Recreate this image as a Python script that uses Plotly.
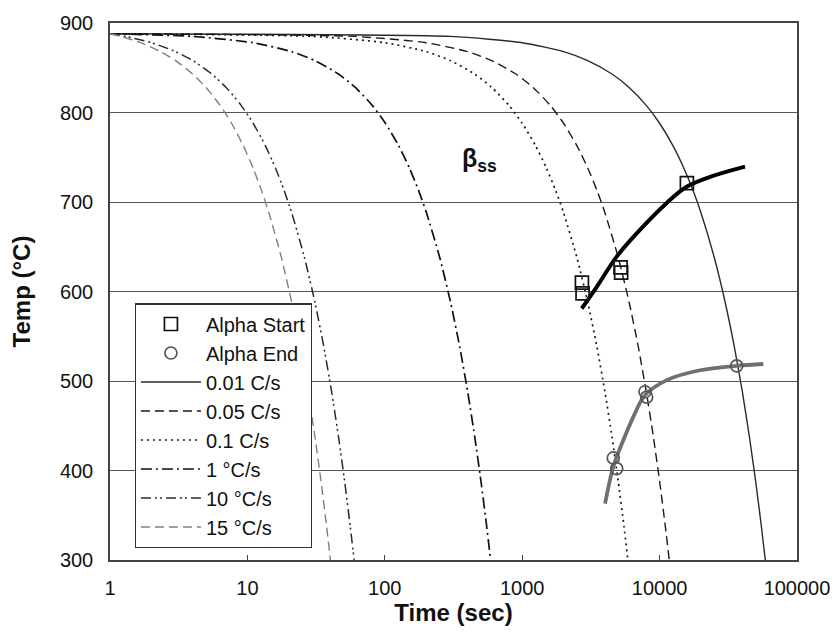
import plotly.graph_objects as go

# ---- data ----
# cooling curves (time in s, temperature in °C)
t_001 = [1, 300, 1000, 2000, 3000, 4500, 6000, 8000, 10000, 12500, 15000, 17500, 20000, 25000, 30000, 35000, 40000, 45000, 50000, 55000, 58800]
T_001 = [888, 885, 878, 868, 858, 843, 828, 808, 788, 763, 738, 713, 688, 638, 588, 538, 488, 438, 388, 338, 300]

t_005 = [1, 60, 200, 400, 600, 900, 1200, 1600, 2000, 2500, 3000, 3500, 4000, 5000, 6000, 7000, 8000, 9000, 10000, 11000, 11760]
T_005 = [888, 885, 878, 868, 858, 843, 828, 808, 788, 763, 738, 713, 688, 638, 588, 538, 488, 438, 388, 338, 300]

t_01 = [1, 30, 100, 200, 300, 450, 600, 800, 1000, 1250, 1500, 1750, 2000, 2500, 3000, 3500, 4000, 4500, 5000, 5500, 5880]
T_01 = [888, 885, 878, 868, 858, 843, 828, 808, 788, 763, 738, 713, 688, 638, 588, 538, 488, 438, 388, 338, 300]

t_1 = [1, 4, 11, 21, 31, 46, 61, 81, 101, 126, 151, 176, 201, 251, 301, 351, 401, 451, 501, 551, 589]
T_1 = [888, 885, 878, 868, 858, 843, 828, 808, 788, 763, 738, 713, 688, 638, 588, 538, 488, 438, 388, 338, 300]

t_10 = [1, 1.3, 2, 3, 4, 5.5, 7, 9, 11, 13.5, 16, 18.5, 21, 26, 31, 36, 41, 46, 51, 56, 59.8]
T_10 = [888, 885, 878, 868, 858, 843, 828, 808, 788, 763, 738, 713, 688, 638, 588, 538, 488, 438, 388, 338, 300]

t_15 = [1, 1.2, 1.67, 2.33, 3, 4, 5, 6.33, 7.67, 9.33, 11, 12.67, 14.33, 17.67, 21, 24.33, 27.67, 31, 34.33, 37.67, 40.2]
T_15 = [888, 885, 878, 868, 858, 843, 828, 808, 788, 763, 738, 713, 688, 638, 588, 538, 488, 438, 388, 338, 300]

# transformation markers
start_t = [2720, 2750, 5200, 5250, 15800]
start_T = [610, 598, 627, 621, 721]
end_t = [4600, 4870, 7830, 8050, 36400]
end_T = [414, 402, 488, 482, 517]

# fitted transformation curves
start_curve_t = [2710, 3480, 4870, 6810, 11270, 15740, 23280, 41880]
start_curve_T = [581, 605, 639, 665, 699, 717, 728, 739.5]
end_curve_t = [4010, 4600, 5450, 6440, 7830, 11270, 19680, 36400, 56900]
end_curve_T = [363, 404, 434, 460, 484, 501, 512, 517, 519]

rate_names = ["0.01 C/s", "0.05 C/s", "0.1 C/s", "1 °C/s", "10 °C/s", "15 °C/s"]

FONT = "Liberation Sans, Arial, sans-serif"

fig = go.Figure()

curves = [
    (t_001, T_001, dict(color="#2a2a2a", width=1.4, dash="solid")),
    (t_005, T_005, dict(color="#1a1a1a", width=1.4, dash="9px,5px")),
    (t_01, T_01, dict(color="#1a1a1a", width=1.7, dash="2px,4px")),
    (t_1, T_1, dict(color="#111111", width=1.7, dash="11px,4px,2px,4px")),
    (t_10, T_10, dict(color="#2a2a2a", width=1.5, dash="10px,4px,2px,3px,2px,4px")),
    (t_15, T_15, dict(color="#808080", width=1.4, dash="9px,5px")),
]
for i, ((tx, ty, ln), nm) in enumerate(zip(curves, rate_names)):
    fig.add_trace(go.Scatter(x=tx, y=ty, mode="lines", name=nm, line=dict(shape="spline", smoothing=0.6, **ln),
                             legendrank=10 + i))

fig.add_trace(go.Scatter(x=start_curve_t, y=start_curve_T, mode="lines", showlegend=False,
                         line=dict(color="black", width=4, shape="spline")))
fig.add_trace(go.Scatter(x=end_curve_t, y=end_curve_T, mode="lines", showlegend=False,
                         line=dict(color="#707070", width=3.8, shape="spline")))

fig.add_trace(go.Scatter(x=start_t, y=start_T, mode="markers", name="Alpha Start", legendrank=1,
                         marker=dict(symbol="square-open", size=13, color="#111111", line=dict(width=1.7))))
fig.add_trace(go.Scatter(x=end_t, y=end_T, mode="markers", name="Alpha End", legendrank=2,
                         marker=dict(symbol="circle-open", size=12, color="#555555", line=dict(width=1.7))))

fig.add_annotation(x=2.69, y=747, xref="x", yref="y", text="<b>β<sub>ss</sub></b>", showarrow=False,
                   font=dict(family=FONT, size=25, color="#111"))

# the page body adds an 8px offset on the left/top, so the figure is 8px smaller
fig.update_layout(
    width=830, height=629,
    margin=dict(l=102, r=41, t=15, b=77, autoexpand=False),
    paper_bgcolor="white", plot_bgcolor="white",
    font=dict(family=FONT, size=20, color="#111"),
    showlegend=True,
    legend=dict(x=0.036, y=0.478, xanchor="left", yanchor="top",
                bgcolor="white", bordercolor="#333", borderwidth=1.2,
                font=dict(family=FONT, size=20, color="#111"),
                itemwidth=60, tracegroupgap=0),
    xaxis=dict(type="log", range=[0, 5], tickvals=[1, 10, 100, 1000, 10000, 100000],
               ticktext=["1", "10", "100", "1000", "10000", "100000"],
               showgrid=False, showline=True, linecolor="#444", linewidth=1.5, mirror=True,
               ticks="inside", ticklen=5, tickcolor="#444", ticklabelstandoff=9,
               tickfont=dict(family=FONT, size=20, color="#111"), automargin=False,
               title=dict(text="<b>Time (sec)</b>", font=dict(family=FONT, size=24, color="#111"), standoff=0),
               zeroline=False),
    yaxis=dict(range=[300, 900], dtick=100, showgrid=True, gridcolor="#555", gridwidth=1.2,
               showline=True, linecolor="#444", linewidth=1.5, mirror=True,
               ticks="", ticklabelstandoff=11, tickfont=dict(family=FONT, size=20, color="#111"),
               automargin=False,
               title=dict(text="<b>Temp (°C)</b>", font=dict(family=FONT, size=24, color="#111"), standoff=22),
               zeroline=False),
)

fig.write_html("out.html")
